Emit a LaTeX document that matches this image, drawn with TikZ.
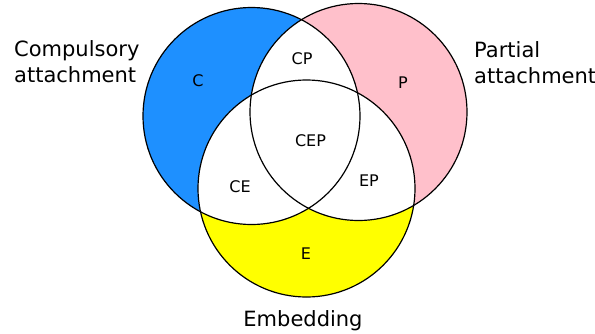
\documentclass[tikz,border=0pt]{standalone}
\usepackage{fontspec}
\setmainfont{DejaVu Sans}
\definecolor{cblue}{HTML}{1E90FF}
\definecolor{ppink}{HTML}{FFC0CB}
\definecolor{eyellow}{HTML}{FFFF00}
\begin{document}
\begin{tikzpicture}[x=1pt,y=-1pt,
  ring/.style={draw=black,line width=1.2pt},
  region/.style={font=\fontsize{16}{19}\selectfont,anchor=base,inner sep=0pt},
  setname/.style={font=\fontsize{21}{26}\selectfont,anchor=base west,inner sep=0pt,align=left}]
\useasboundingbox (0,0) rectangle (595,333);
\def\R{108.5pt}
\coordinate (C) at (251.5,116);
\coordinate (P) at (358.5,112);
\coordinate (E) at (306.5,188.5);
% coloured sets
\fill[cblue] (C) circle[radius=\R];
\fill[ppink] (P) circle[radius=\R];
\fill[eyellow] (E) circle[radius=\R];
% overlaps stay white
\begin{scope}
  \clip (C) circle[radius=\R];
  \fill[white] (P) circle[radius=\R];
  \fill[white] (E) circle[radius=\R];
\end{scope}
\begin{scope}
  \clip (P) circle[radius=\R];
  \fill[white] (E) circle[radius=\R];
\end{scope}
% outlines
\draw[ring] (C) circle[radius=\R];
\draw[ring] (P) circle[radius=\R];
\draw[ring] (E) circle[radius=\R];
% region labels
\node[region] (lC) at (198,86) {C};
\node[region] (lCP) at (302,64) {CP};
\node[region] (lP) at (403,88) {P};
\node[region] (lCEP) at (310.5,146) {CEP};
\node[region] (lCE) at (240,192) {CE};
\node[region] (lEP) at (369,186) {EP};
\node[region] (lE) at (306,259) {E};
% set names (base anchor sits on the last line)
\node[setname] (nC) at (14,82) {Compulsory\\attachment};
\node[setname] (nP) at (474,83) {Partial\\attachment};
\node[setname,anchor=base] (nE) at (303,326) {Embedding};
\end{tikzpicture}
\end{document}
